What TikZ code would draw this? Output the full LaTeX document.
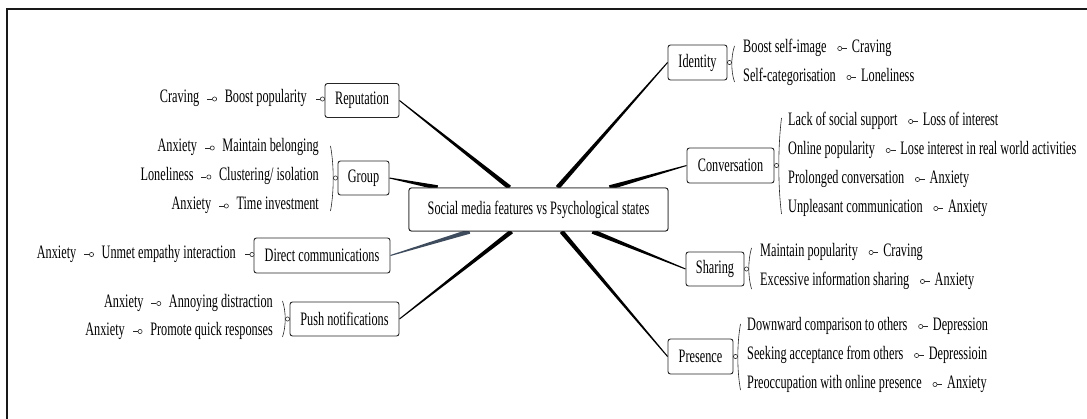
\documentclass[tikz,border=0pt]{standalone}
\usepackage{fontspec}
\setmainfont{Liberation Serif}[FakeStretch=0.645]
\usetikzlibrary{calc}
\definecolor{slate}{RGB}{62,76,94}
\tikzset{
  every node/.style={font=\fontsize{19}{22}\selectfont},
  box/.style={draw=black!85, line width=0.9pt, rounded corners=2.5pt, inner sep=0pt, fill=white},
  lbl/.style={inner sep=0pt},
  dot/.style={circle, draw=black!85, fill=white, line width=0.6pt, minimum size=4.2pt, inner sep=0pt},
  thinline/.style={line width=0.6pt, draw=black!85},
  frameline/.style={line width=2pt, draw=black!90},
}
\newcommand\branch[3][black]{%
  \fill[#1] ($(#2)!2.3pt!90:(#3)$) -- ($(#3)!0.5pt!-90:(#2)$) -- ($(#3)!0.5pt!90:(#2)$) -- ($(#2)!2.3pt!-90:(#3)$) -- cycle;}
% right grandchild: child node, new name, text
\newcommand\gr[3]{%
  \node[dot] (#2d) at ([xshift=13pt,yshift=1.5pt]#1.mid east) {};
  \draw[thinline] (#2d.east) -- ++(5pt,0) coordinate (#2e);
  \node[lbl, anchor=mid west] (#2) at ([xshift=12pt]#1.mid east -| #2d.center) {#3};}
% left grandchild
\newcommand\gl[3]{%
  \node[dot] (#2d) at ([xshift=-10pt,yshift=1.5pt]#1.mid west) {};
  \draw[thinline] (#2d.west) -- ++(-5pt,0) coordinate (#2e);
  \node[lbl, anchor=mid east] (#2) at ([xshift=-15pt]#1.mid west -| #2d.center) {#3};}
% bracket right side "(": apex x, top y, bottom y
\newcommand\brR[3]{%
  \draw[thinline] (#1+3,#2) .. controls (#1-0.6,#2+0.3*#3-0.3*#2) and (#1-0.6,#3-0.3*#3+0.3*#2) .. (#1+3,#3);}
\newcommand\brL[3]{%
  \draw[thinline] (#1-3,#2) .. controls (#1+0.6,#2+0.3*#3-0.3*#2) and (#1+0.6,#3-0.3*#3+0.3*#2) .. (#1-3,#3);}
\begin{document}
\begin{tikzpicture}[x=1pt,y=-1pt]
\useasboundingbox (0,0) rectangle (1087,419);
\draw[frameline] (6.5,419) -- (6.5,9.3) -- (1087,9.3);

% central and feature boxes
\node[box, minimum width=259pt, minimum height=43pt] (c) at (538.5,209.5) {Social media features vs Psychological states};
\node[box, minimum width=74pt, minimum height=34pt] (rep) at (362,100.5) {Reputation};
\node[box, minimum width=51pt, minimum height=34pt] (grp) at (363.5,178) {Group};
\node[box, minimum width=136pt, minimum height=35pt] (dir) at (322,255.5) {Direct communications};
\node[box, minimum width=109pt, minimum height=34pt] (push) at (344.5,319) {Push notifications};
\node[box, minimum width=59pt, minimum height=35pt] (idn) at (697.5,62.5) {Identity};
\node[box, minimum width=87pt, minimum height=35pt] (conv) at (730.5,165.5) {Conversation};
\node[box, minimum width=58pt, minimum height=34pt] (shr) at (715,269) {Sharing};
\node[box, minimum width=65pt, minimum height=35pt] (pres) at (700.5,356.5) {Presence};

% branch anchor points on the central box
\coordinate (cRep) at ($(c.north west)+(101,0)$);
\coordinate (cIdn) at ($(c.north west)+(149,0)$);
\coordinate (cGrp) at ($(c.north west)+(29,0)$);
\coordinate (cConv) at ($(c.north west)+(201,0)$);
\coordinate (cDir) at ($(c.south west)+(61,0)$);
\coordinate (cPush) at ($(c.south west)+(103,0)$);
\coordinate (cShr) at ($(c.south west)+(184,0)$);
\coordinate (cPres) at ($(c.south west)+(153,0)$);

\branch{cRep}{rep.east}
\branch{cIdn}{idn.west}
\branch{cGrp}{grp.east}
\branch{cConv}{conv.west}
\branch[slate]{cDir}{dir.east}
\branch{cPush}{push.east}
\branch{cShr}{shr.west}
\branch{cPres}{pres.west}
\node[box, minimum width=259pt, minimum height=43pt] at (c) {Social media features vs Psychological states};

% ---------- left side ----------
% Reputation
\node[dot] (repd) at (322.5,99) {};
\node[lbl, anchor=mid east] (r1) at (307,100.5) {Boost popularity};
\draw[thinline] (repd.west) -- ++(-4.5pt,0) coordinate (repe);
\gl{r1}{r1g}{Craving}

% Group
\node[dot] (grpd) at (335.5,178) {};
\brL{333.5}{146}{211}
\node[lbl, anchor=mid east] (g1) at (319,149.5) {Maintain belonging};
\node[lbl, anchor=mid east] (g2) at (319,178.5) {Clustering/ isolation};
\node[lbl, anchor=mid east] (g3) at (319,207.5) {Time investment};
\gl{g1}{g1g}{Anxiety}
\gl{g2}{g2g}{Loneliness}
\gl{g3}{g3g}{Anxiety}

% Direct communications
\node[dot] (dird) at (252,254.5) {};
\node[lbl, anchor=mid east] (d1) at (236,256) {Unmet empathy interaction};
\draw[thinline] (dird.west) -- ++(-4.5pt,0) coordinate (dire);
\gl{d1}{d1g}{Anxiety}

% Push notifications
\node[dot] (pushd) at (287.5,319) {};
\brL{285.5}{301}{337}
\node[lbl, anchor=mid east] (p1) at (273,305) {Annoying distraction};
\node[lbl, anchor=mid east] (p2) at (273,333) {Promote quick responses};
\gl{p1}{p1g}{Anxiety}
\gl{p2}{p2g}{Anxiety}

% ---------- right side ----------
% Identity
\node[dot] (idnd) at (729.5,62.5) {};
\brR{731.5}{46}{82}
\node[lbl, anchor=mid west] (i1) at (743,50) {Boost self-image};
\node[lbl, anchor=mid west] (i2) at (743,79) {Self-categorisation};
\gr{i1}{i1g}{Craving}
\gr{i2}{i2g}{Loneliness}

% Conversation
\node[dot] (convd) at (776.5,165.5) {};
\brR{778.5}{118}{214}
\node[lbl, anchor=mid west] (k1) at (788,123) {Lack of social support};
\node[lbl, anchor=mid west] (k2) at (788,152) {Online popularity};
\node[lbl, anchor=mid west] (k3) at (788,181) {Prolonged conversation};
\node[lbl, anchor=mid west] (k4) at (788,210) {Unpleasant communication};
\gr{k1}{k1g}{Loss of interest}
\gr{k2}{k2g}{Lose interest in real world activities}
\gr{k3}{k3g}{Anxiety}
\gr{k4}{k4g}{Anxiety}

% Sharing
\node[dot] (shrd) at (746.5,269) {};
\brR{748.5}{248}{289}
\node[lbl, anchor=mid west] (s1) at (760,254) {Maintain popularity};
\node[lbl, anchor=mid west] (s2) at (760,283) {Excessive information sharing};
\gr{s1}{s1g}{Craving}
\gr{s2}{s2g}{Anxiety}

% Presence
\node[dot] (presd) at (735.5,356.5) {};
\brR{737.5}{324}{390}
\node[lbl, anchor=mid west] (e1) at (747,328) {Downward comparison to others};
\node[lbl, anchor=mid west] (e2) at (747,357) {Seeking acceptance from others};
\node[lbl, anchor=mid west] (e3) at (747,386) {Preoccupation with online presence};
\gr{e1}{e1g}{Depression}
\gr{e2}{e2g}{Depressioin}
\gr{e3}{e3g}{Anxiety}
\end{tikzpicture}
\end{document}
